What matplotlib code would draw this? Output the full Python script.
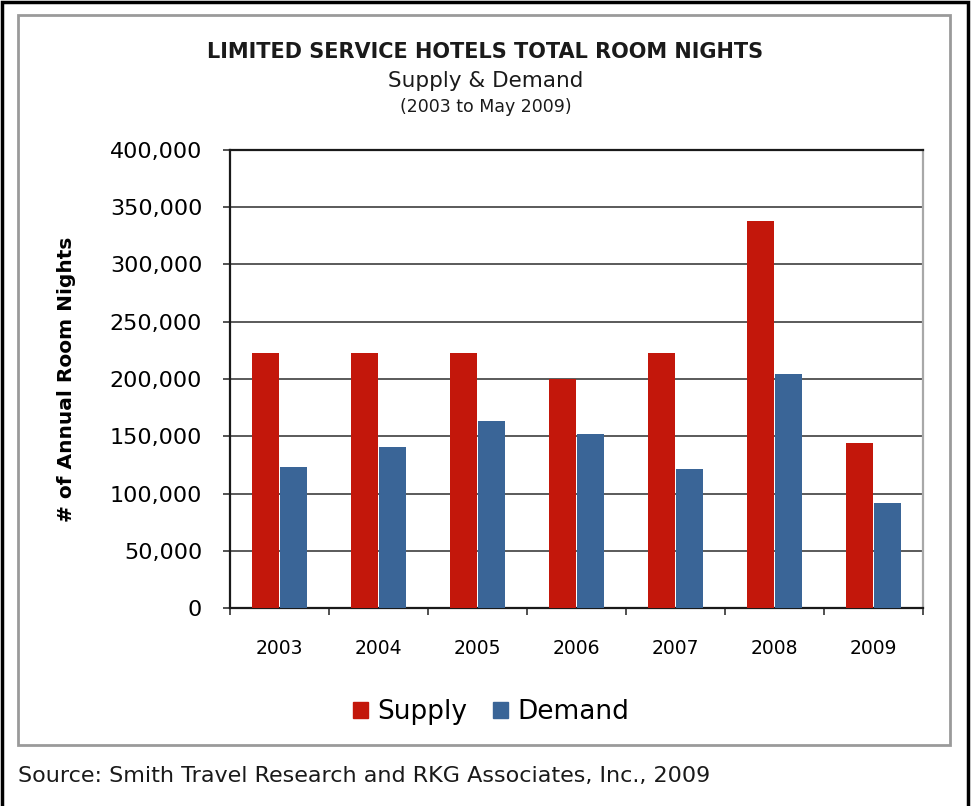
import numpy as np
import matplotlib.pyplot as plt
from matplotlib.patches import Rectangle, Patch
from matplotlib.ticker import FuncFormatter, MultipleLocator, FixedLocator

# ── 데이터 ──────────────────────────────────────────────
years = ['2003', '2004', '2005', '2006', '2007', '2008', '2009']
supply = [223000, 223000, 223000, 200000, 223000, 338000, 144000]
demand = [123000, 141000, 163000, 152000, 121000, 204000, 92000]

RED = '#C3170B'
BLUE = '#3A6597'

plt.rcParams['font.family'] = ['DejaVu Sans']

fig = plt.figure(figsize=(9.71, 8.06), dpi=100)
W, H = 971, 806

def fx(px):
    return px / W

def fy(py):
    return 1 - py / H

# 바깥 검정 테두리 (아래는 잘림) + 안쪽 회색 박스
fig.patches.append(Rectangle((fx(1.5), -0.05), fx(966), fy(1.5) + 0.05,
                             transform=fig.transFigure, fill=False, ec='black', lw=2.5, zorder=0))
fig.patches.append(Rectangle((fx(18), fy(745)), fx(950 - 18), (745 - 15) / H,
                             transform=fig.transFigure, fill=False, ec='#9A9A9A', lw=2, zorder=0))

# 제목
fig.text(0.5, fy(52), 'LIMITED SERVICE HOTELS TOTAL ROOM NIGHTS', ha='center', va='center',
         fontsize=15, fontweight='bold', color='#1A1A1A')
fig.text(0.5, fy(81), 'Supply & Demand', ha='center', va='center', fontsize=15.5, color='#1A1A1A')
fig.text(0.5, fy(107), '(2003 to May 2009)', ha='center', va='center', fontsize=12.5, color='#1A1A1A')

# ── 막대 그래프 ─────────────────────────────────────────
ax = fig.add_axes([fx(230), fy(608), fx(923 - 230), (608 - 150) / H])
x = np.arange(len(years))
w = 0.27
ax.bar(x - 0.14, supply, w, color=RED, zorder=3)
ax.bar(x + 0.14, demand, w, color=BLUE, zorder=3)

ax.set_xlim(-0.5, len(years) - 0.5)
ax.set_ylim(0, 400000)
ax.yaxis.set_major_locator(MultipleLocator(50000))
ax.yaxis.set_major_formatter(FuncFormatter(lambda v, p: f'{int(v):,}'))
ax.grid(axis='y', color='#5A5A5A', lw=1.4, zorder=1)

ax.set_xticks(x)
ax.set_xticklabels(years, fontsize=13.5)
ax.xaxis.set_minor_locator(FixedLocator(np.arange(-0.5, len(years), 1.0)))
ax.tick_params(axis='x', which='major', length=0, pad=22)
ax.tick_params(axis='x', which='minor', length=5, width=1.2, color='#333333', direction='out')
ax.tick_params(axis='y', length=5, width=1.2, labelsize=16, pad=15, color='#333333')

for side in ['left', 'bottom', 'top']:
    ax.spines[side].set_color('#1A1A1A')
    ax.spines[side].set_linewidth(1.6)
ax.spines['right'].set_color('#A8A8A8')
ax.spines['right'].set_linewidth(1.6)

ax.set_ylabel('# of Annual Room Nights', fontsize=14.5, fontweight='bold')
ax.yaxis.set_label_coords((76 - 230) / 693, 0.5)

# 범례
handles = [Patch(color=RED, label='Supply'), Patch(color=BLUE, label='Demand')]
fig.legend(handles=handles, loc='center', bbox_to_anchor=(fx(491), fy(712)), ncol=2, frameon=False,
           fontsize=19, handlelength=0.55, handleheight=0.55, handletextpad=0.35, columnspacing=1.0)

# 출처
fig.text(fx(18), fy(776), 'Source: Smith Travel Research and RKG Associates, Inc., 2009',
         ha='left', va='center', fontsize=16, color='#1A1A1A')

fig.savefig('out.png', dpi=100)
